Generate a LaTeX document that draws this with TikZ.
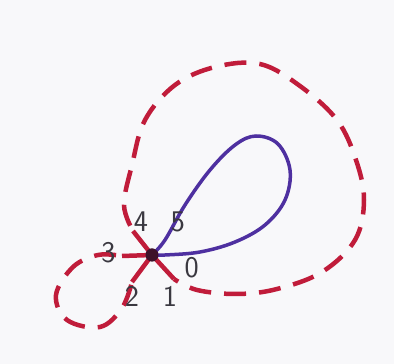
\documentclass[tikz,border=0pt]{standalone}
\usepackage{tikz}
\usetikzlibrary{positioning}

\definecolor{penred}{RGB}{192,28,58}
\definecolor{penblue}{RGB}{78,48,160}
\definecolor{inkdot}{RGB}{62,18,42}
\definecolor{pencil}{RGB}{58,56,64}
\definecolor{paper}{RGB}{248,248,250}

\begin{document}
\begin{tikzpicture}[
    x=1pt, y=1pt,
    vertex/.style={circle, fill=inkdot, inner sep=0pt, outer sep=0pt, minimum size=13pt},
    num/.style={inner sep=0pt, outer sep=0pt, text=pencil, font=\fontsize{30}{32}\selectfont\sffamily},
    spoke/.style={penred, line width=4.5pt},
    dashloop/.style={penred, line width=4.5pt, dash pattern=on 22pt off 13pt, dash phase=29pt},
    solidloop/.style={penblue, line width=3.5pt}
]
    % Paper
    \fill[paper] (0,0) rectangle (394,364);
    \useasboundingbox (0,0) rectangle (394,364);

    % Vertex
    \node[vertex] (v) at (152,109) {};

    % Ends of the spokes
    \coordinate (s4) at (133,133);
    \coordinate (s3) at (122,108);
    \coordinate (s2) at (132,82);
    \coordinate (s1) at (174,85);

    % Spokes
    \draw[spoke] (v.center) -- (s4);
    \draw[spoke] (v.center) -- (s3);
    \draw[spoke] (v.center) -- (s2);
    \draw[spoke] (v.center) -- (s1);

    % Big dashed loop
    \draw[dashloop] plot[smooth, tension=0.6] coordinates {(s4) (124,159) (132,199) (145,244) (175,279) (215,297) (260,300) (300,278) (337,244) (356,204) (364,164) (355,124) (322,92) (277,75) (237,70) (197,74) (s1)};

    % Small dashed loop
    \draw[dashloop] plot[smooth, tension=0.6] coordinates {(s3) (98,109) (73,97) (56,69) (67,44) (100,37) (122,56) (s2)};

    % Solid loop
    \draw[solidloop] plot[smooth, tension=0.6] coordinates {(v.center) (165,124) (185,159) (210,194) (235,219) (256,228) (278,220) (290,194) (285,164) (265,139) (235,122) (200,112) (165,109) (v.center)};

    \node[vertex] at (v) {};

    % Labels
    \node[num, above=16.8pt of v, xshift=-11pt] (n4) {4};
    \node[num, above=16.8pt of v, xshift=26pt] (n5) {5};
    \node[num, left=30pt of v, yshift=2pt] (n3) {3};
    \node[num, right=26pt of v, yshift=-13pt] (n0) {0};
    \node[num, below=24.8pt of v, xshift=-20pt] (n2) {2};
    \node[num, below=24.8pt of v, xshift=18pt] (n1) {1};
\end{tikzpicture}
\end{document}
